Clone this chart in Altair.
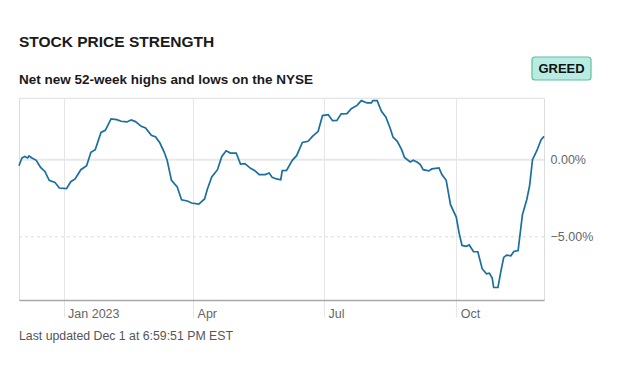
import altair as alt
import pandas as pd

dates = [
    "2022-12-01", "2022-12-03", "2022-12-05", "2022-12-07", "2022-12-08", "2022-12-10",
    "2022-12-13", "2022-12-16", "2022-12-19", "2022-12-22", "2022-12-26", "2022-12-29",
    "2023-01-03", "2023-01-06", "2023-01-09", "2023-01-13", "2023-01-17", "2023-01-20",
    "2023-01-23", "2023-01-27", "2023-01-30", "2023-02-03", "2023-02-07", "2023-02-10",
    "2023-02-14", "2023-02-17", "2023-02-20", "2023-02-24", "2023-02-27", "2023-03-03",
    "2023-03-06", "2023-03-09", "2023-03-12", "2023-03-14", "2023-03-17", "2023-03-21",
    "2023-03-24", "2023-03-28", "2023-03-31", "2023-04-05", "2023-04-09", "2023-04-11",
    "2023-04-14", "2023-04-18", "2023-04-21", "2023-04-24", "2023-04-27", "2023-05-01",
    "2023-05-04", "2023-05-07", "2023-05-11", "2023-05-14", "2023-05-17", "2023-05-21",
    "2023-05-24", "2023-05-26", "2023-05-29", "2023-06-01", "2023-06-02", "2023-06-05",
    "2023-06-09", "2023-06-12", "2023-06-16", "2023-06-20", "2023-06-23", "2023-06-27",
    "2023-06-30", "2023-07-04", "2023-07-07", "2023-07-10", "2023-07-13", "2023-07-17",
    "2023-07-20", "2023-07-24", "2023-07-27", "2023-07-31", "2023-08-03", "2023-08-04",
    "2023-08-07", "2023-08-10", "2023-08-13", "2023-08-16", "2023-08-18", "2023-08-21",
    "2023-08-24", "2023-08-26", "2023-08-30", "2023-09-01", "2023-09-04", "2023-09-06",
    "2023-09-08", "2023-09-12", "2023-09-14", "2023-09-19", "2023-09-21", "2023-09-24",
    "2023-09-27", "2023-10-01", "2023-10-03", "2023-10-05", "2023-10-08", "2023-10-10",
    "2023-10-13", "2023-10-16", "2023-10-19", "2023-10-22", "2023-10-24", "2023-10-26",
    "2023-10-27", "2023-10-30", "2023-11-01", "2023-11-03", "2023-11-05", "2023-11-08",
    "2023-11-10", "2023-11-13", "2023-11-16", "2023-11-19", "2023-11-21", "2023-11-23",
    "2023-11-26", "2023-11-29", "2023-12-01",
]
values = [
    -0.39, 0.11, 0.21, 0.11, 0.24, 0.11,
    -0.04, -0.50, -0.76, -1.34, -1.47, -1.84,
    -1.88, -1.43, -1.25, -0.65, -0.39, 0.48,
    0.65, 1.77, 1.90, 2.64, 2.60, 2.49,
    2.45, 2.58, 2.47, 2.16, 2.06, 1.58,
    1.47, 1.08, 0.48, -0.04, -1.34, -1.77,
    -2.60, -2.68, -2.81, -2.88, -2.55, -1.90,
    -1.12, -0.65, 0.21, 0.58, 0.43, 0.43,
    -0.28, -0.26, -0.56, -0.71, -0.97, -0.97,
    -0.86, -1.15, -1.25, -1.30, -0.71, -0.69,
    -0.04, 0.26, 1.12, 1.19, 1.51, 1.84,
    2.86, 2.92, 2.53, 2.55, 2.97, 2.99,
    3.31, 3.52, 3.83, 3.68, 3.68, 3.83,
    3.83, 3.14, 2.77, 2.06, 1.47, 1.19,
    0.65, 0.15, -0.15, -0.04, -0.17, -0.32,
    -0.65, -0.73, -0.60, -0.54, -0.97, -1.34,
    -2.92, -3.72, -4.76, -5.56, -5.62, -5.53,
    -5.97, -5.97, -7.07, -7.40, -7.36, -7.68,
    -8.29, -8.29, -7.25, -6.34, -6.19, -6.23,
    -5.95, -5.89, -3.57, -2.60, -1.69, 0.00,
    0.58, 1.30, 1.51,
]

y_ticks = [0, -5]
x_ticks = ["2023-01-01", "2023-04-01", "2023-07-01", "2023-10-01"]
x_domain = ["2022-12-01", "2023-12-01"]
y_domain = [-9.1, 4.0]

title_text = "STOCK PRICE STRENGTH"
subtitle_text = "Net new 52-week highs and lows on the NYSE"
footer_text = "Last updated Dec 1 at 6:59:51 PM EST"
badge_text = "GREED"

FONT = "Liberation Sans"
W, H = 525, 202

df = pd.DataFrame({"date": pd.to_datetime(dates), "value": values})

x_scale = alt.Scale(domain=[pd.Timestamp(d).isoformat() for d in x_domain], nice=False)
y_scale = alt.Scale(domain=y_domain, nice=False, zero=False)

x_axis = alt.Axis(
    values=[pd.Timestamp(d).isoformat() for d in x_ticks],
    labelExpr="month(datum.value) == 0 ? timeFormat(datum.value, '%b %Y') : timeFormat(datum.value, '%b')",
    grid=True, gridColor="#e6e6e6", gridWidth=1,
    ticks=True, tickColor="#e6e6e6", tickSize=17, tickWidth=1,
    domain=True, domainColor="#a8a8a8", domainWidth=1.5,
    labelAlign="left", labelBaseline="top", labelPadding=-10, labelOffset=4,
    labelFont=FONT, labelFontSize=12.5, labelColor="#666666",
    title=None,
)

base = alt.Chart(df)

grid_zero = alt.Chart(pd.DataFrame({"v": [0]})).mark_rule(color="#e8e8e8", strokeWidth=2).encode(
    y=alt.Y("v:Q", scale=y_scale)
)
grid_neg = alt.Chart(pd.DataFrame({"v": [-5]})).mark_rule(
    color="#dddddd", strokeWidth=1, strokeDash=[3, 3]
).encode(y=alt.Y("v:Q", scale=y_scale))
top_rule = alt.Chart(pd.DataFrame({"v": [0]})).mark_rule(color="#eeeeee", strokeWidth=1).encode(
    x=alt.value(0), x2=alt.value(W), y=alt.value(0)
)

line = base.mark_line(color="#1a6ea0", strokeWidth=1.7, interpolate="linear").encode(
    x=alt.X("date:T", scale=x_scale, axis=x_axis),
    y=alt.Y(
        "value:Q",
        scale=y_scale,
        axis=alt.Axis(
            orient="right", values=y_ticks, grid=False, ticks=False, domain=False,
            labelExpr="format(datum.value, '.2f') + '%'",
            labelFont=FONT, labelFontSize=12.5, labelColor="#666666", labelPadding=6,
            title=None,
        ),
    ),
)

one = pd.DataFrame({"t": [0]})

title = alt.Chart(one).mark_text(
    text=title_text, font=FONT, fontSize=15.5, fontWeight="bold", color="#1a1a1a",
    align="left", baseline="middle",
).encode(x=alt.value(0), y=alt.value(-56))

subtitle = alt.Chart(one).mark_text(
    text=subtitle_text, font=FONT, fontSize=13.5, fontWeight="bold", color="#1a1a1a",
    align="left", baseline="middle",
).encode(x=alt.value(0), y=alt.value(-18))

footer = alt.Chart(one).mark_text(
    text=footer_text, font=FONT, fontSize=12.3, color="#555555",
    align="left", baseline="middle",
).encode(x=alt.value(0), y=alt.value(238))

badge_box = alt.Chart(one).mark_rect(
    fill="#b8ece2", stroke="#5fbf9c", strokeWidth=1.2, cornerRadius=3
).encode(x=alt.value(513), x2=alt.value(572), y=alt.value(-41), y2=alt.value(-18))

badge_label = alt.Chart(one).mark_text(
    text=badge_text, font=FONT, fontSize=13, fontWeight="bold", color="#111111",
    align="center", baseline="middle",
).encode(x=alt.value(542.5), y=alt.value(-29))

chart = alt.layer(
    top_rule, grid_zero, grid_neg, line, title, subtitle, footer, badge_box, badge_label
).properties(
    width=W, height=H,
    autosize=alt.AutoSizeParams(type="none"),
    padding={"left": 11, "top": 90, "right": 70, "bottom": 50},
).configure_view(stroke=None).configure(background="white")

chart.save("out.html", embed_options={"renderer": "svg", "actions": False})
